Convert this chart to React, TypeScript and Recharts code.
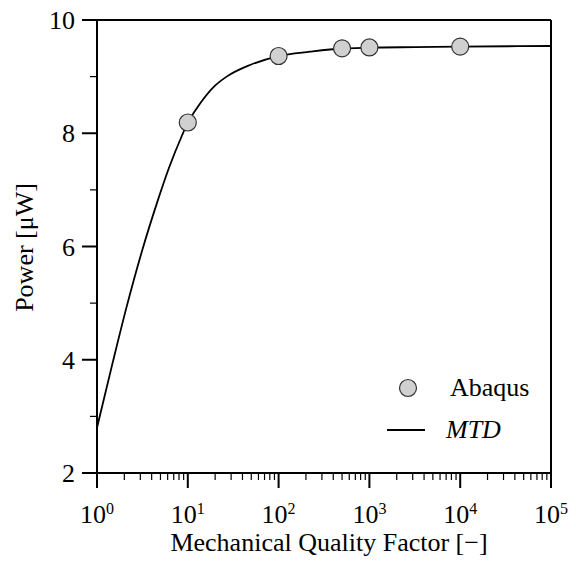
import React from "react";
import {
  ComposedChart, Line, Scatter, XAxis, YAxis, ReferenceLine, Legend,
} from "recharts";

const FONT = "'Liberation Serif', 'Times New Roman', serif";

// Abaqus results (quality factor, power in µW)
const ABAQUS_Q = [10, 100, 500, 1000, 10000];
const ABAQUS_P = [8.19, 9.364, 9.5, 9.515, 9.53];

// MTD curve
const MTD_Q = [1, 1.463, 2.14, 3.131, 4.58, 6.21, 8.63, 10, 12.31, 19.94, 26.8, 48.4, 100, 222, 500, 1000, 3200, 10000, 100000];
const MTD_P = [2.8, 3.9, 4.96, 5.92, 6.77, 7.39, 7.96, 8.19, 8.42, 8.84, 9.0, 9.205, 9.364, 9.44, 9.497, 9.511, 9.521, 9.53, 9.541];

const X_MAJOR = [1, 10, 100, 1000, 10000, 100000];
const X_MINOR_STEPS = [2, 3, 4, 5, 6, 7, 8, 9];
const Y_TICKS = [2, 3, 4, 5, 6, 7, 8, 9, 10];
const Y_LABELED = [2, 4, 6, 8, 10];

const abaqusData = ABAQUS_Q.map((q, i) => ({ q, p: ABAQUS_P[i] }));
const mtdData = MTD_Q.map((q, i) => ({ q, p: MTD_P[i] }));

const xTicks = [
  ...X_MAJOR,
  ...X_MAJOR.slice(0, -1).flatMap((d) => X_MINOR_STEPS.map((s) => s * d)),
].sort((a, b) => a - b);

function XTick({ x, y, payload }: any) {
  const v = payload.value;
  const major = X_MAJOR.includes(v);
  const exp = Math.round(Math.log10(v));
  return (
    <g>
      <line x1={x} x2={x} y1={y} y2={y + (major ? 15 : 7)} stroke="#000" strokeWidth={major ? 2 : 1.2} />
      {major && (
        <text x={x} y={y + 50} textAnchor="middle" fontFamily={FONT} fontSize={26} fill="#000">
          <tspan>10</tspan>
          <tspan dy={-9} fontSize={16}>{exp}</tspan>
        </text>
      )}
    </g>
  );
}

function YTick({ x, y, payload }: any) {
  const v = payload.value;
  const major = Y_LABELED.includes(v);
  return (
    <g>
      <line x1={x} x2={x - (major ? 15 : 7)} y1={y} y2={y} stroke="#000" strokeWidth={major ? 2 : 1.2} />
      {major && (
        <text x={x - 22} y={y + 9} textAnchor="end" fontFamily={FONT} fontSize={26} fill="#000">
          {v}
        </text>
      )}
    </g>
  );
}

function Marker(props: any) {
  const { cx, cy } = props;
  if (cx == null || cy == null) return null;
  return <circle cx={cx} cy={cy} r={8.5} fill="#d0d0d0" stroke="#333" strokeWidth={1.2} />;
}

function LegendBox() {
  const row: React.CSSProperties = { display: "flex", alignItems: "center", height: 42 };
  const txt: React.CSSProperties = { fontFamily: FONT, fontSize: 26, color: "#000", lineHeight: "normal" };
  return (
    <div>
      <div style={row}>
        <svg width={50} height={24}>
          <circle cx={28} cy={12} r={8.5} fill="#d0d0d0" stroke="#333" strokeWidth={1.2} />
        </svg>
        <span style={{ ...txt, marginLeft: 20 }}>Abaqus</span>
      </div>
      <div style={row}>
        <svg width={50} height={24}>
          <line x1={7} x2={45} y1={12} y2={12} stroke="#000" strokeWidth={1.8} />
        </svg>
        <span style={{ ...txt, marginLeft: 16, fontStyle: "italic" }}>MTD</span>
      </div>
    </div>
  );
}

export default function App() {
  return (
    <div style={{ position: "absolute", left: 0, top: 0, width: 576, height: 568, background: "#fff" }}>
      <ComposedChart width={576} height={568} margin={{ top: 20, right: 25, left: 0, bottom: 0 }}>
        <XAxis
          type="number" dataKey="q" scale="log" domain={[1, 100000]} allowDataOverflow
          ticks={xTicks} interval={0} tickLine={false} tickSize={0} tickMargin={0}
          tick={<XTick />} height={95}
          axisLine={{ stroke: "#000", strokeWidth: 2 }}
          label={(p: any) => {
            const vb = p.viewBox || { x: 97, y: 473, width: 454 };
            return (
              <text x={vb.x + vb.width / 2 + 5} y={vb.y + 78} textAnchor="middle" fontFamily={FONT} fontSize={26} fill="#000">
                Mechanical Quality Factor [−]
              </text>
            );
          }}
        />
        <YAxis
          type="number" dataKey="p" domain={[2, 10]} ticks={Y_TICKS} interval={0}
          tickLine={false} tickSize={0} tickMargin={0} tick={<YTick />} width={97}
          axisLine={{ stroke: "#000", strokeWidth: 2 }}
          label={(p: any) => {
            const vb = p.viewBox || { x: 0, y: 20, height: 453 };
            const cy = vb.y + vb.height / 2 + 1;
            return (
              <text x={33} y={cy} transform={`rotate(-90, 33, ${cy})`} textAnchor="middle" fontFamily={FONT} fontSize={26} fill="#000">
                Power [μW]
              </text>
            );
          }}
        />
        <ReferenceLine y={10} stroke="#000" strokeWidth={2} />
        <ReferenceLine x={100000} stroke="#000" strokeWidth={2} />
        <Line
          data={mtdData} dataKey="p" name="MTD" type="monotone" stroke="#000" strokeWidth={1.8}
          dot={false} activeDot={false} isAnimationActive={false}
        />
        <Scatter data={abaqusData} dataKey="p" name="Abaqus" shape={<Marker />} isAnimationActive={false} />
        <Legend
          layout="vertical" align="center" verticalAlign="middle"
          wrapperStyle={{ position: "absolute", left: 380, top: 367, width: 150, margin: 0 }}
          content={() => <LegendBox />}
        />
      </ComposedChart>
    </div>
  );
}
